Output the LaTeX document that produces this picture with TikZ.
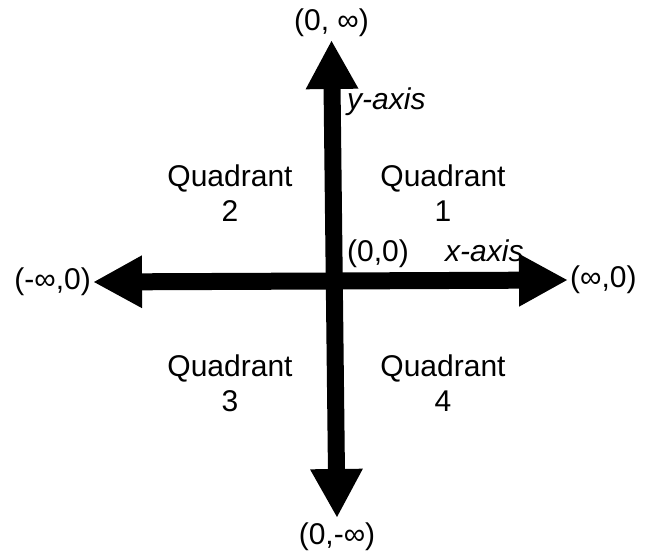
\documentclass[tikz,border=0pt]{standalone}
\usepackage{fontspec}
\setmainfont{Liberation Sans}
\usetikzlibrary{arrows.meta, positioning}

\begin{document}
\begin{tikzpicture}[x=1pt, y=-1pt, node distance=2pt,
            axis/.style={line width=17pt, {Triangle[length=49pt, width=49pt]}-{Triangle[length=49pt, width=49pt]}},
            lbl/.style={inner sep=0pt, font=\fontsize{30}{35}\selectfont},
            quad/.style={lbl, align=center, anchor=north}]
            \useasboundingbox (0,0) rectangle (645,553);

            % arrow tips
            \coordinate (xneg) at (93,282);
            \coordinate (xpos) at (568,280);
            \coordinate (ypos) at (331.5,40);
            \coordinate (yneg) at (337,518);

            \draw[axis] (xneg) -- (xpos);
            \draw[axis] (yneg) -- (ypos);

            \node[lbl, left=2pt of xneg] (xneglbl) {(-∞,0)};
            \node[lbl, right=2pt of xpos] (xposlbl) {(∞,0)};
            \node[lbl, above=3pt of ypos] (yposlbl) {(0, ∞)};
            \node[lbl, below=5pt of yneg] (yneglbl) {(0,-∞)};

            \node[lbl, anchor=base west] (origin) at (347,262) {(0,0)};
            \node[lbl, anchor=base west] (xaxis) at (445,262) {\itshape x-axis};
            \node[lbl, anchor=base west] (yaxis) at (347,110) {\itshape y-axis};

            \node[quad] (q1) at (443,165) {Quadrant\\1};
            \node[quad] (q2) at (230,165) {Quadrant\\2};
            \node[quad] (q3) at (230,355) {Quadrant\\3};
            \node[quad] (q4) at (443,355) {Quadrant\\4};
        \end{tikzpicture}
\end{document}
